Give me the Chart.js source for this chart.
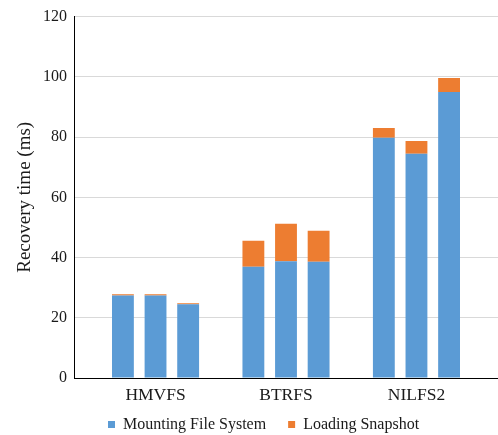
<!DOCTYPE html>
<html>
<head>
<meta charset="utf-8">
<script src="https://cdn.jsdelivr.net/npm/chart.js@4/dist/chart.umd.min.js"></script>
<style>
  html, body { margin: 0; padding: 0; background: #ffffff; }
  #wrap { width: 498px; height: 435px; }
</style>
</head>
<body>
<div id="wrap"><canvas id="c" width="498" height="435"></canvas></div>
<script>
// ---- data ----
const groups = ['HMVFS', 'BTRFS', 'NILFS2'];
const seriesNames = ['Mounting File System', 'Loading Snapshot'];
// three bars per group, in order
const mountingHMVFS = [27.4, 27.4, 24.5];
const mountingBTRFS = [36.9, 38.8, 38.6];
const mountingNILFS2 = [79.8, 74.5, 95.0];
const loadingHMVFS = [0.4, 0.4, 0.3];
const loadingBTRFS = [8.7, 12.4, 10.3];
const loadingNILFS2 = [3.2, 4.2, 4.6];
const yTicks = [0, 20, 40, 60, 80, 100, 120];

// ---- build the slot table (blank slot between groups) ----
const mounting = [mountingHMVFS, mountingBTRFS, mountingNILFS2];
const loading = [loadingHMVFS, loadingBTRFS, loadingNILFS2];
const labels = [], mData = [], lData = [];
groups.forEach((g, gi) => {
  labels.push(''); mData.push(null); lData.push(null);
  mounting[gi].forEach((v, bi) => {
    labels.push(bi === 1 ? g : '');
    mData.push(v);
    lData.push(loading[gi][bi]);
  });
});
labels.push(''); mData.push(null); lData.push(null);

const FONT = 'Liberation Serif';
const TXT = '#1a1a1a';

const legendPlace = {
  id: 'legendPlace',
  afterLayout(chart) {
    const l = chart.legend;
    if (!l || !l.lineWidths) return;
    const pad = l.options.labels.padding;
    const cur = (l.left + pad + l.right - l.lineWidths[0]) / 2;
    const dx = 108 - cur;
    l.left += dx; l.right += dx;
    const h = l.height;
    l.top = 416.5 - pad; l.bottom = l.top + h;
  }
};

new Chart(document.getElementById('c'), {
  type: 'bar',
  data: {
    labels: labels,
    datasets: [
      { label: seriesNames[0], data: mData, backgroundColor: '#5b9bd5', borderWidth: 0,
        barPercentage: 0.67, categoryPercentage: 1.0 },
      { label: seriesNames[1], data: lData, backgroundColor: '#ed7d31', borderWidth: 0,
        barPercentage: 0.67, categoryPercentage: 1.0 }
    ]
  },
  options: {
    responsive: false,
    animation: false,
    layout: { padding: { top: 15, right: -3, bottom: -21, left: 0 } },
    plugins: {
      tooltip: { enabled: false },
      legend: {
        position: 'bottom',
        labels: {
          font: { family: FONT, size: 16 },
          color: TXT,
          boxWidth: 7,
          boxHeight: 7,
          padding: 22
        }
      }
    },
    scales: {
      x: {
        stacked: true,
        grid: { display: false, drawTicks: false },
        border: { display: true, color: '#000000', width: 1 },
        ticks: {
          autoSkip: false, maxRotation: 0, minRotation: 0,
          padding: 7,
          font: { family: FONT, size: 17.5 },
          color: TXT
        },
        afterFit(scale) { scale.height = 30; }
      },
      y: {
        stacked: true,
        min: 0, max: 120,
        afterBuildTicks(scale) { scale.ticks = yTicks.map(v => ({ value: v })); },
        grid: {
          drawTicks: false,
          color: (ctx) => (ctx.tick && ctx.tick.value === 0) ? 'rgba(0,0,0,0)' : '#d9d9d9',
          lineWidth: 1
        },
        border: { display: true, color: '#000000', width: 1 },
        ticks: {
          padding: 7,
          font: { family: FONT, size: 16 },
          color: TXT
        },
        title: {
          display: true,
          text: 'Recovery time (ms)',
          font: { family: FONT, size: 19 },
          color: TXT,
          padding: { top: 14, bottom: 0 }
        },
        afterFit(scale) { scale.width = 74; }
      }
    }
  },
  plugins: [legendPlace]
});
</script>
</body>
</html>
